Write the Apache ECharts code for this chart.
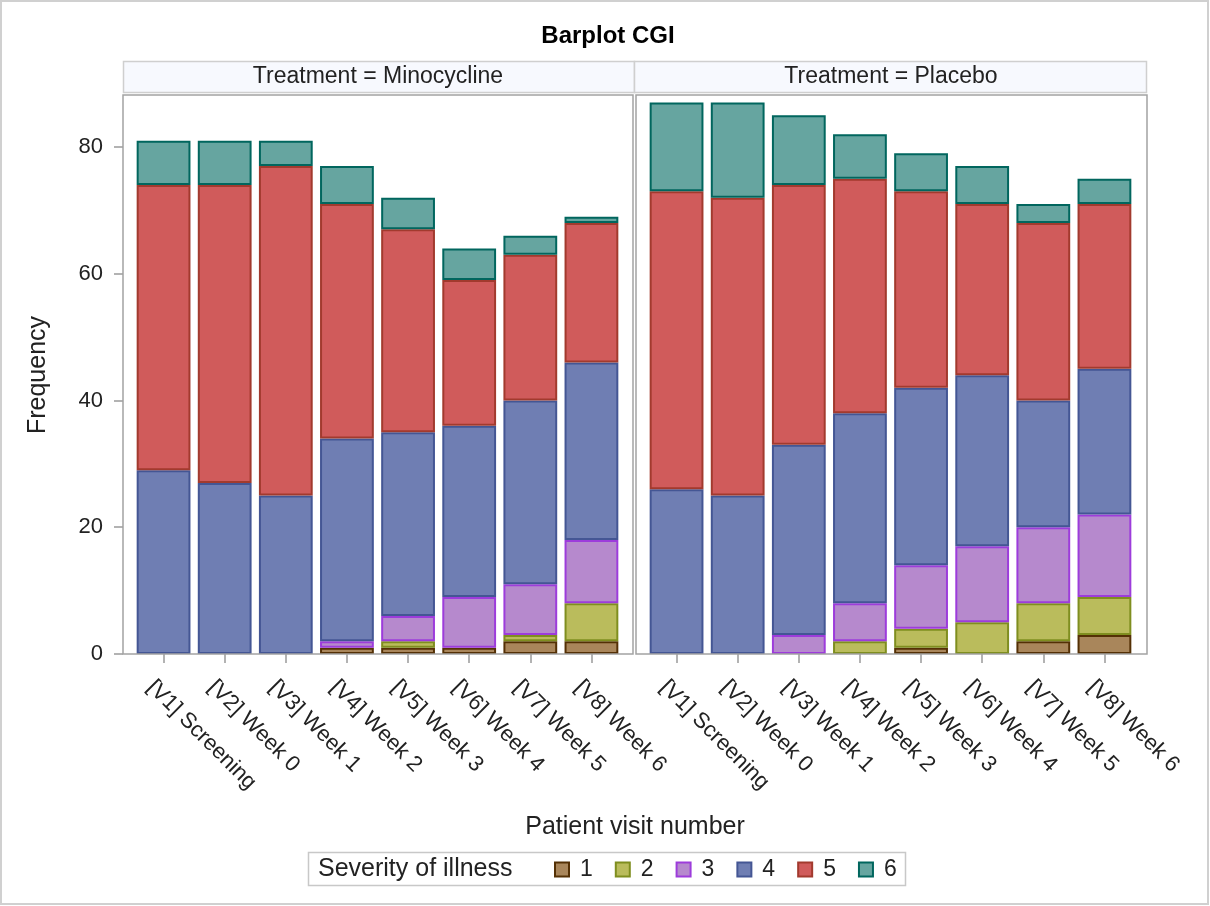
<!DOCTYPE html>
<html>
<head>
<meta charset="utf-8">
<script src="https://cdn.jsdelivr.net/npm/echarts@6/dist/echarts.min.js"></script>
<style>
html,body{margin:0;padding:0;background:#fff;}
#chart{width:1210px;height:906px;}
</style>
</head>
<body>
<div id="chart"></div>
<script>
// ---- data ----
const categories = ['[V1] Screening','[V2] Week 0','[V3] Week 1','[V4] Week 2','[V5] Week 3','[V6] Week 4','[V7] Week 5','[V8] Week 6'];
const severityLevels = ['1','2','3','4','5','6'];
const panels = ['Treatment = Minocycline','Treatment = Placebo'];

// Minocycline
const mino1 = [0,0,0,1,1,1,2,2];
const mino2 = [0,0,0,0,1,0,1,6];
const mino3 = [0,0,0,1,4,8,8,10];
const mino4 = [29,27,25,32,29,27,29,28];
const mino5 = [45,47,52,37,32,23,23,22];
const mino6 = [7,7,4,6,5,5,3,1];

// Placebo
const plac1 = [0,0,0,0,1,0,2,3];
const plac2 = [0,0,0,2,3,5,6,6];
const plac3 = [0,0,3,6,10,12,12,13];
const plac4 = [26,25,30,30,28,27,20,23];
const plac5 = [47,47,41,37,31,27,28,26];
const plac6 = [14,15,11,7,6,6,3,4];

const yTicks = [0,20,40,60,80];
const yMax = 88.2;

// ---- styles ----
const fills   = ['#A9865B','#BABC5C','#B689CD','#6F7EB3','#D05B5B','#66A5A0'];
const borders = ['#543005','#7F8E1F','#9D3CDB','#445694','#A23A2E','#01665E'];
const FONT = '"Liberation Sans", Arial, sans-serif';
const TXT = '#222';

const minoSeries = [mino1,mino2,mino3,mino4,mino5,mino6];
const placSeries = [plac1,plac2,plac3,plac4,plac5,plac6];

function clean(arr){ return arr.map(v => v === 0 ? null : v); }

const series = [];
[minoSeries, placSeries].forEach((group, gi) => {
  group.forEach((vals, si) => {
    series.push({
      name: severityLevels[si],
      type: 'bar',
      xAxisIndex: gi,
      yAxisIndex: gi,
      stack: 'p' + gi,
      barWidth: '88%',
      data: clean(vals),
      itemStyle: { color: fills[si], borderColor: borders[si], borderWidth: 2 },
      emphasis: { disabled: true }
    });
  });
});

function xAxisCfg(gi){
  return {
    gridIndex: gi, type: 'category', data: categories,
    axisLine: { show: false },
    axisTick: { show: true, alignWithLabel: true, length: 9, lineStyle: { color: '#9a9a9a', width: 1.5 } },
    axisLabel: { interval: 0, rotate: -45, fontSize: 22, fontFamily: FONT, color: TXT,
                 margin: 17, verticalAlign: 'top', lineHeight: 37 },
    splitLine: { show: false }
  };
}

const option = {
  animation: false,
  backgroundColor: '#fff',
  grid: [
    { left: 133, top: 95, width: 489, height: 559 },
    { left: 646, top: 95, width: 489, height: 559 }
  ],
  xAxis: [xAxisCfg(0), xAxisCfg(1)],
  yAxis: [
    { gridIndex: 0, type: 'value', min: 0, max: yMax, offset: 10,
      axisLine: { show: false },
      axisTick: { show: true, length: 9, customValues: yTicks, lineStyle: { color: '#9a9a9a', width: 1.5 } },
      axisLabel: { customValues: yTicks, fontSize: 22, fontFamily: FONT, color: TXT, margin: 20 },
      splitLine: { show: false } },
    { gridIndex: 1, type: 'value', min: 0, max: yMax, show: false, splitLine: { show: false } }
  ],
  legend: {
    data: severityLevels,
    left: 549, top: 853,
    icon: 'rect', itemWidth: 14, itemHeight: 14, itemGap: 22,
    selectedMode: false,
    textStyle: { fontSize: 23, fontFamily: FONT, color: TXT, padding: [0,0,0,6] }
  },
  graphic: [
    // outer border
    { type: 'rect', shape: { x: 1, y: 1, width: 1207, height: 903 }, style: { fill: 'none', stroke: '#d0d0d0', lineWidth: 2 }, silent: true, z: 0 },
    // title
    { type: 'text', style: { x: 608, y: 36, text: 'Barplot CGI', align: 'center', verticalAlign: 'middle', font: 'bold 24px ' + FONT, fill: '#000' } },
    // panel headers
    { type: 'rect', shape: { x: 123.5, y: 61.5, width: 511, height: 31 }, style: { fill: '#F7F9FE', stroke: '#cfcfcf', lineWidth: 1.5 }, silent: true },
    { type: 'rect', shape: { x: 634.5, y: 61.5, width: 512, height: 31 }, style: { fill: '#F7F9FE', stroke: '#cfcfcf', lineWidth: 1.5 }, silent: true },
    { type: 'text', style: { x: 378, y: 77, text: panels[0], align: 'center', verticalAlign: 'middle', font: '23px ' + FONT, fill: TXT } },
    { type: 'text', style: { x: 891, y: 77, text: panels[1], align: 'center', verticalAlign: 'middle', font: '23px ' + FONT, fill: TXT } },
    // plot frames
    { type: 'rect', shape: { x: 123, y: 95, width: 510, height: 559 }, style: { fill: 'none', stroke: '#a3a3a3', lineWidth: 1.5 }, silent: true, z: 10 },
    { type: 'rect', shape: { x: 636, y: 95, width: 511, height: 559 }, style: { fill: 'none', stroke: '#a3a3a3', lineWidth: 1.5 }, silent: true, z: 10 },
    // axis titles
    { type: 'text', rotation: Math.PI / 2, x: 38, y: 375, style: { x: 0, y: 0, text: 'Frequency', align: 'center', verticalAlign: 'middle', font: '25px ' + FONT, fill: TXT } },
    { type: 'text', style: { x: 635, y: 827, text: 'Patient visit number', align: 'center', verticalAlign: 'middle', font: '25px ' + FONT, fill: TXT } },
    // legend box and title
    { type: 'rect', shape: { x: 308.5, y: 852.5, width: 597, height: 33 }, style: { fill: 'none', stroke: '#c8c8c8', lineWidth: 1.5 }, silent: true },
    { type: 'text', style: { x: 318, y: 869, text: 'Severity of illness', align: 'left', verticalAlign: 'middle', font: '25px ' + FONT, fill: TXT } }
  ],
  series: series
};

const chart = echarts.init(document.getElementById('chart'), null, { renderer: 'canvas' });
chart.setOption(option);
</script>
</body>
</html>
